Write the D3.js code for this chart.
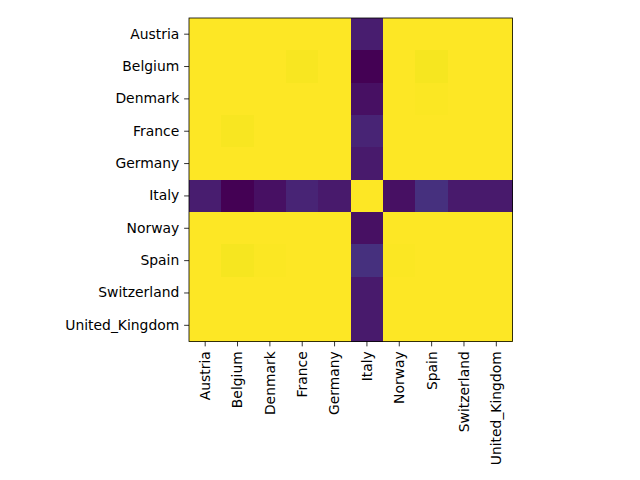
<!DOCTYPE html>
<html>
<head>
<meta charset="utf-8">
<script src="https://cdn.jsdelivr.net/npm/d3@7"></script>
<style>
  body { margin: 0; background: #fff; }
  svg text { font-family: "DejaVu Sans", sans-serif; font-size: 13.9px; fill: #000; }
</style>
</head>
<body>
<svg id="chart" width="640" height="480"></svg>
<script>
const countries = ['Austria', 'Belgium', 'Denmark', 'France', 'Germany', 'Italy', 'Norway', 'Spain', 'Switzerland', 'United_Kingdom']

// correlation values, row by row
const rowAustria = [1.00, 1.00, 1.00, 1.00, 1.00, 0.08, 1.00, 1.00, 1.00, 1.00]
const rowBelgium = [1.00, 1.00, 1.00, 0.99, 1.00, 0.00, 1.00, 0.985, 1.00, 1.00]
const rowDenmark = [1.00, 1.00, 1.00, 1.00, 1.00, 0.04, 1.00, 0.995, 1.00, 1.00]
const rowFrance = [1.00, 0.99, 1.00, 1.00, 1.00, 0.10, 1.00, 1.00, 1.00, 1.00]
const rowGermany = [1.00, 1.00, 1.00, 1.00, 1.00, 0.07, 1.00, 1.00, 1.00, 1.00]
const rowItaly = [0.08, 0.00, 0.04, 0.10, 0.07, 1.00, 0.04, 0.14, 0.07, 0.07]
const rowNorway = [1.00, 1.00, 1.00, 1.00, 1.00, 0.04, 1.00, 0.997, 1.00, 1.00]
const rowSpain = [1.00, 0.985, 0.993, 1.00, 1.00, 0.14, 0.993, 1.00, 1.00, 1.00]
const rowSwitzerland = [1.00, 1.00, 1.00, 1.00, 1.00, 0.07, 1.00, 1.00, 1.00, 1.00]
const rowUK = [1.00, 1.00, 1.00, 1.00, 1.00, 0.07, 1.00, 1.00, 1.00, 1.00]

const matrix = [rowAustria, rowBelgium, rowDenmark, rowFrance, rowGermany,
  rowItaly, rowNorway, rowSpain, rowSwitzerland, rowUK]

const plotLeft = 189
const plotTop = 18
const plotSize = 323.5
const tickLen = 4.86

const svg = d3.select('#chart')

const x = d3.scaleBand().domain(countries).range([plotLeft, plotLeft + plotSize])
const y = d3.scaleBand().domain(countries).range([plotTop, plotTop + plotSize])

const allValues = matrix.flat()
const color = d3.scaleSequential(d3.interpolateViridis)
  .domain([d3.min(allValues), d3.max(allValues)])

const cells = []
matrix.forEach((row, i) => {
  row.forEach((v, j) => cells.push({ row: countries[i], col: countries[j], value: v }))
})

svg.append('g')
  .selectAll('rect')
  .data(cells)
  .join('rect')
  .attr('x', d => x(d.col))
  .attr('y', d => y(d.row))
  .attr('width', x.bandwidth() + 0.5)
  .attr('height', y.bandwidth() + 0.5)
  .attr('shape-rendering', 'crispEdges')
  .style('fill', d => color(d.value))

// frame
svg.append('rect')
  .attr('x', plotLeft)
  .attr('y', plotTop)
  .attr('width', plotSize)
  .attr('height', plotSize)
  .style('fill', 'none')
  .style('stroke', '#000')
  .style('stroke-width', 0.8)

const xAxis = svg.append('g')
  .attr('transform', `translate(0,${plotTop + plotSize})`)
  .call(d3.axisBottom(x).tickSize(tickLen).tickPadding(tickLen))
xAxis.select('.domain').remove()
xAxis.selectAll('.tick line').attr('stroke-width', 0.8)
xAxis.selectAll('.tick text')
  .attr('font-size', null)
  .attr('font-family', null)
  .attr('text-anchor', 'end')
  .attr('dy', '0.35em')
  .attr('transform', 'rotate(-90)')
  .attr('x', -(tickLen * 2))
  .attr('y', 0)

const yAxis = svg.append('g')
  .attr('transform', `translate(${plotLeft},0)`)
  .call(d3.axisLeft(y).tickSize(tickLen).tickPadding(tickLen))
yAxis.select('.domain').remove()
yAxis.selectAll('.tick line').attr('stroke-width', 0.8)
yAxis.selectAll('.tick text')
  .attr('font-size', null)
  .attr('font-family', null)
</script>
</body>
</html>
